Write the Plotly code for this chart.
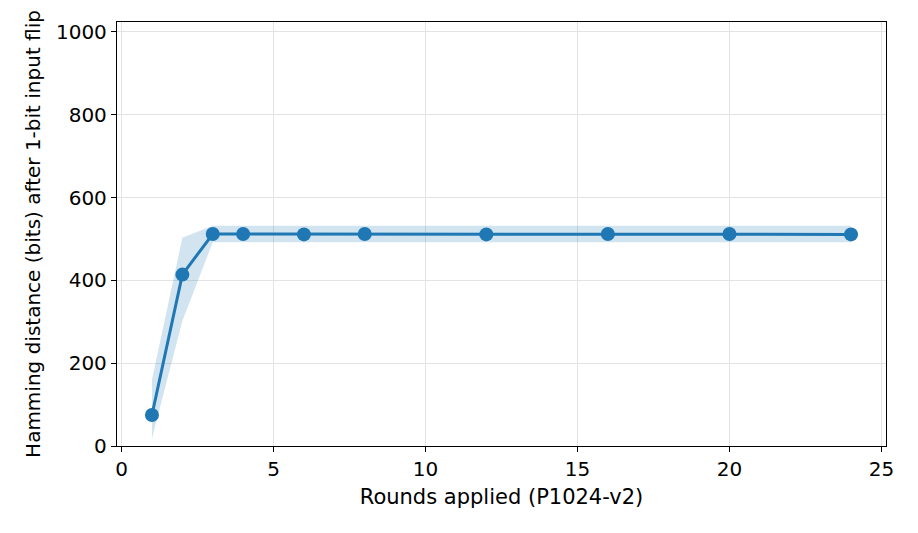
import plotly.graph_objects as go

rounds = [1, 2, 3, 4, 6, 8, 12, 16, 20, 24]
mean_hd = [75, 414, 512, 512, 511, 512, 511, 512, 512, 511]
lower_hd = [18, 302, 492, 492, 492, 492, 492, 492, 492, 492]
upper_hd = [160, 503, 532, 532, 532, 533, 532, 532, 532, 532]

blue = '#1f77b4'
tick_font = dict(family='DejaVu Sans', size=20, color='black')
xtitle_font = dict(family='DejaVu Sans', size=21, color='black')
ytitle_font = dict(family='DejaVu Sans', size=20, color='black')

fig = go.Figure()
fig.add_trace(go.Scatter(x=rounds, y=upper_hd, mode='lines', line=dict(width=0),
                         showlegend=False, hoverinfo='skip'))
fig.add_trace(go.Scatter(x=rounds, y=lower_hd, mode='lines', line=dict(width=0),
                         fill='tonexty', fillcolor='rgba(31,119,180,0.2)',
                         showlegend=False, hoverinfo='skip'))
fig.add_trace(go.Scatter(x=rounds, y=mean_hd, mode='lines+markers',
                         line=dict(color=blue, width=3),
                         marker=dict(color=blue, size=14), showlegend=False))

axis_style = dict(showline=True, mirror=True, linecolor='black', linewidth=1.3,
                  ticks='outside', ticklen=5, tickwidth=1.2, tickcolor='black',
                  showgrid=True, gridcolor='#e3e3e3', gridwidth=1.2,
                  zeroline=False, tickfont=tick_font)

# page body has an 8px margin, so the figure is shrunk and margins shifted
fig.update_layout(
    width=910, height=525,
    margin=dict(l=109, r=32, t=14, b=87),
    plot_bgcolor='white', paper_bgcolor='white',
    font=tick_font,
    xaxis=dict(range=[-0.15, 25.15], tickvals=[0, 5, 10, 15, 20, 25],
               title=dict(text='Rounds applied (P1024-v2)', font=xtitle_font, standoff=9),
               **axis_style),
    yaxis=dict(range=[0, 1024], tickvals=[0, 200, 400, 600, 800, 1000],
               title=dict(text='Hamming distance (bits) after 1-bit input flip', font=ytitle_font, standoff=9),
               **axis_style),
)
fig.write_html("out.html")
